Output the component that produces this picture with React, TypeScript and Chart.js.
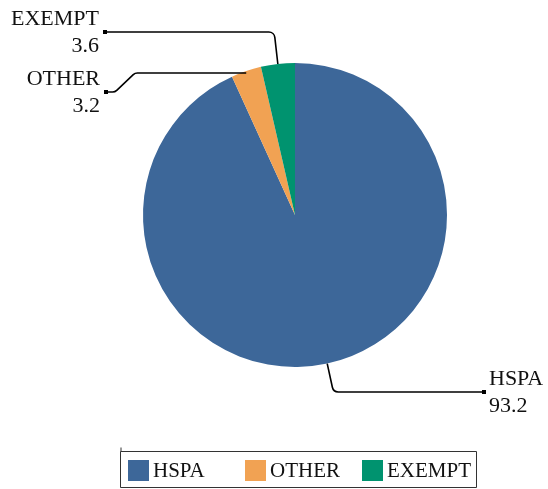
import React, { useEffect, useRef } from "react";
import { Chart, registerables } from "chart.js";

Chart.register(...registerables);

const categories = ["HSPA", "OTHER", "EXEMPT"];
const values = [93.2, 3.2, 3.6];
const colors = ["#3D6799", "#F1A253", "#00936F"];

// label layout: dot offset from pie centre, path mode
const LABEL_LAYOUT = [
  { dx: 189, dy: 177, side: "right", mode: "radial" },
  { dx: -189, dy: -123, side: "left", mode: "kink" },
  { dx: -190, dy: -183, side: "left", mode: "radial" },
];

const FONT = "'Liberation Serif', 'Times New Roman', serif";

const leaderPlugin = {
  id: "leaderLabels",
  afterDraw(chart: any) {
    const ctx = chart.ctx as CanvasRenderingContext2D;
    const meta = chart.getDatasetMeta(0);
    ctx.save();
    meta.data.forEach((arc: any, i: number) => {
      const p = arc.getProps(["x", "y", "startAngle", "endAngle", "outerRadius"], true);
      const cx = p.x, cy = p.y;
      const mid = (p.startAngle + p.endAngle) / 2;
      const ax = cx + Math.cos(mid) * p.outerRadius;
      const ay = cy + Math.sin(mid) * p.outerRadius;
      const lay = LABEL_LAYOUT[i];
      const dotX = cx + lay.dx, dotY = cy + lay.dy;
      let pts: [number, number][];
      if (lay.mode === "radial") {
        const t = (dotY - ay) / Math.sin(mid);
        const ex = ax + Math.cos(mid) * t;
        pts = [[ax, ay], [ex, dotY], [dotX, dotY]];
      } else {
        pts = [[ax, ay + 2], [dotX + 29, ay + 2], [dotX + 9, dotY], [dotX, dotY]];
      }
      ctx.strokeStyle = "#000";
      ctx.lineWidth = 1.6;
      ctx.lineJoin = "round";
      ctx.beginPath();
      ctx.moveTo(pts[0][0], pts[0][1]);
      for (let k = 1; k < pts.length - 1; k++) {
        ctx.arcTo(pts[k][0], pts[k][1], pts[k + 1][0], pts[k + 1][1], 6);
      }
      ctx.lineTo(pts[pts.length - 1][0], pts[pts.length - 1][1]);
      ctx.stroke();
      ctx.fillStyle = "#000";
      ctx.fillRect(dotX - 2, dotY - 2, 4, 4);

      ctx.font = `22px ${FONT}`;
      ctx.fillStyle = "#111";
      ctx.textBaseline = "alphabetic";
      if (lay.side === "right") {
        ctx.textAlign = "left";
        ctx.fillText(categories[i], dotX + 5, dotY - 7);
        ctx.fillText(values[i].toFixed(1), dotX + 5, dotY + 20);
      } else {
        ctx.textAlign = "right";
        ctx.fillText(categories[i], dotX - 6, dotY - 7);
        ctx.fillText(values[i].toFixed(1), dotX - 6, dotY + 20);
      }
    });

    // legend
    const bx = 120.5, by = 451.5, bw = 356, bh = 36;
    ctx.strokeStyle = "#333";
    ctx.lineWidth = 1;
    ctx.strokeRect(bx, by, bw, bh);
    ctx.beginPath();
    ctx.moveTo(bx + 0.5, by);
    ctx.lineTo(bx + 0.5, by - 4);
    ctx.stroke();
    ctx.font = `21px ${FONT}`;
    ctx.textAlign = "left";
    ctx.textBaseline = "alphabetic";
    categories.forEach((c, i) => {
      const x = 128 + i * 117;
      ctx.fillStyle = colors[i];
      ctx.fillRect(x, 460, 21, 21);
      ctx.fillStyle = "#111";
      ctx.fillText(c, x + 25, 477);
    });
    ctx.restore();
  },
};

export default function App() {
  const ref = useRef<HTMLCanvasElement>(null);
  useEffect(() => {
    if (!ref.current) return;
    const chart = new Chart(ref.current, {
      type: "pie",
      data: {
        labels: categories,
        datasets: [
          {
            data: values,
            backgroundColor: colors,
            borderWidth: 0,
          },
        ],
      },
      options: {
        animation: false,
        responsive: true,
        maintainAspectRatio: false,
        layout: { padding: { top: 63, bottom: 122, left: 143, right: 101 } },
        plugins: {
          legend: { display: false },
          tooltip: { enabled: false },
        },
      },
      plugins: [leaderPlugin],
    });
    return () => chart.destroy();
  }, []);
  return (
    <div style={{ position: "fixed", left: 0, top: 0, width: 548, height: 489, background: "#fff" }}>
      <canvas ref={ref} />
    </div>
  );
}
